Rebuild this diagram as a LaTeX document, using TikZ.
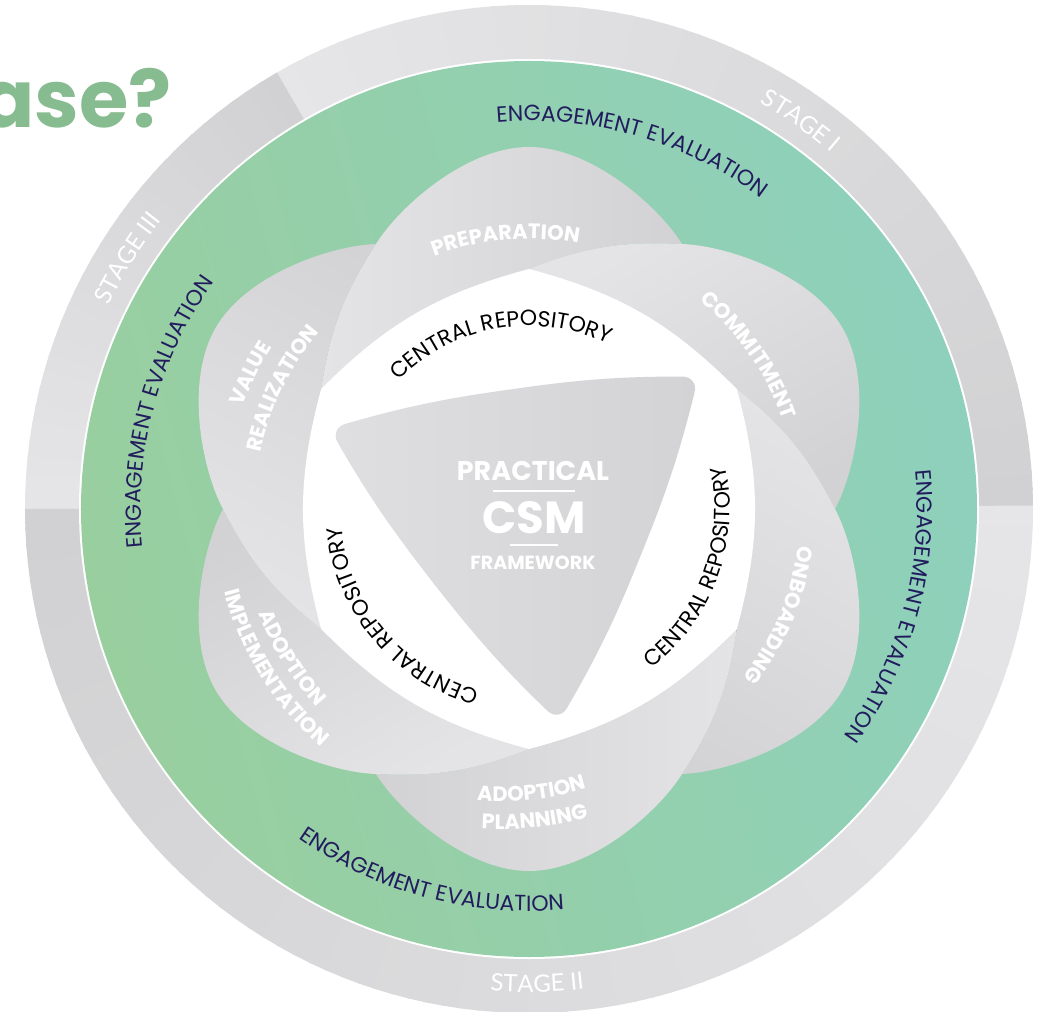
\documentclass[tikz,border=0pt]{standalone}
\usepackage{fontspec}
\setmainfont{Poppins}
\newfontfamily\stagefont{Lato}
\usetikzlibrary{decorations.text}

\definecolor{navyink}{HTML}{221C5E}
\definecolor{leafgreen}{HTML}{99CF9F}
\definecolor{leafteal}{HTML}{8ED0BC}
\definecolor{ringlight}{HTML}{E6E6E8}
\definecolor{ringdark}{HTML}{D1D1D3}
\definecolor{petallight}{HTML}{E4E4E6}
\definecolor{petaldark}{HTML}{D2D2D4}
\definecolor{corelight}{HTML}{DFDFE1}
\definecolor{coredark}{HTML}{D3D3D5}
\definecolor{titlegreen}{HTML}{86BC8F}

\tikzset{
    petal/.style={
        top color=petallight,
        bottom color=petaldark
    },
    core/.style={
        left color=corelight,
        right color=coredark
    },
    coretext/.style={
        text=white,
        inner sep=0pt,
        font=\bfseries
    },
    corerule/.style={draw=white, line width=2.2pt},
    titletext/.style={
        text=titlegreen,
        inner sep=0pt,
        font=\fontsize{80}{82}\selectfont\bfseries
    }
}
\newcommand{\engfont}{\fontsize{22}{26}\selectfont\color{navyink}}
\newcommand{\petalfont}{\fontsize{21}{24}\selectfont\bfseries\color{white}}
\newcommand{\repofont}{\fontsize{22}{26}\selectfont\color{black}}
\newcommand{\stagelabel}{\stagefont\fontsize{24}{28}\selectfont\color{white}}
% text on an arc round the centre: [path options]{mid angle}{baseline radius}{font}{text}
\newcommand{\cwtext}[5][]{%
    \path[#1, decorate, decoration={text along path, text align=center, text={|#4|#5}}]
        (#2+70:#3) arc[start angle=#2+70, end angle=#2-70, radius=#3];}
\newcommand{\ccwtext}[5][]{%
    \path[#1, decorate, decoration={text along path, text align=center, text={|#4|#5}}]
        (#2-70:#3) arc[start angle=#2-70, end angle=#2+70, radius=#3];}

\begin{document}
\begin{tikzpicture}[x=1pt, y=1pt]
    \useasboundingbox (-529,-502) rectangle (514,509);
    \fill[white] (-529,-502) rectangle (514,509);
    % stage ring, each stage darker clockwise
    \foreach \sa/\sb in {0/120,120/180,180/360}{
        \pgfmathtruncatemacro{\nw}{(\sb-\sa)/2-1}
        \foreach \i in {0,...,\nw}{
            \pgfmathsetmacro{\wa}{\sa+2*\i}
            \pgfmathtruncatemacro{\mixpct}{(2*\i+1)/(\sb-\sa)*100}
            \fill[ringlight!\mixpct!ringdark] (0,0) -- (\wa:504)
                arc[start angle=\wa, end angle=\wa+2.4, radius=504] -- cycle;
        }
    }
    \fill[white] (0,0) circle[radius=450];
    \shade[top color=leafteal, bottom color=leafgreen, shading angle=-75] (0,0) circle[radius=448];

    % six petals
    \foreach \r in {0,-60,...,-300}{
        \pgfmathsetmacro{\shang}{90+\r}
        \shade[petal, shading angle=\shang]
            (\r+150:240) to[bend left=12] (\r+120:306)
            .. controls +(\r+58:45) and +(\r+180:62) .. (\r+90:362)
            .. controls +(\r:62) and +(\r+122:45) .. (\r+60:306)
            to[bend right=12] (\r+90:240) -- (0,0) -- cycle;
    }
    % hub
    \fill[white] (150:240) to[bend left=15] (90:240) to[bend left=15] (30:240)
        to[bend left=15] (-30:240) to[bend left=15] (-90:240)
        to[bend left=15] (-150:240) to[bend left=15] cycle;
    \shade[core, rounded corners=16] (218:121) to[bend left=4] (158:215)
        to[bend left=4] (98:121) to[bend left=4] (38:215)
        to[bend left=4] (-22:121) to[bend left=4] (-82:215)
        to[bend left=4] (218:121);

    \node[coretext, font=\fontsize{27}{30}\selectfont\bfseries] (practical) at (4,38) {PRACTICAL};
    \node[coretext, font=\fontsize{45}{50}\selectfont\bfseries] (csm) at (5,-9) {CSM};
    \node[coretext, font=\fontsize{19}{22}\selectfont\bfseries] (framework) at (4,-54) {FRAMEWORK};
    \draw[corerule] (-36,18) -- (46,18);
    \draw[corerule] (-19,-36) -- (29,-36);

    % ring labels
    \cwtext{74}{388}{\engfont}{ENGAGEMENT EVALUATION}
    \cwtext{165}{388}{\engfont}{ENGAGEMENT EVALUATION}
    \cwtext{-15}{388}{\engfont}{ENGAGEMENT EVALUATION}
    \ccwtext{-105}{402}{\engfont}{ENGAGEMENT EVALUATION}
    \cwtext{55}{467}{\stagelabel}{STAGE I}
    \cwtext{148}{467}{\stagelabel}{STAGE III}
    \ccwtext{-89}{483}{\stagelabel}{STAGE II}

    % petal labels
    \cwtext{95}{270}{\petalfont}{PREPARATION}
    \cwtext{35}{269}{\petalfont}{COMMITMENT}
    \cwtext{-23}{272}{\petalfont}{ONBOARDING}
    \cwtext{154}{304}{\petalfont}{VALUE}
    \cwtext{154}{274}{\petalfont}{REALIZATION}
    \ccwtext{212}{290}{\petalfont}{ADOPTION}
    \ccwtext{212}{316}{\petalfont}{IMPLEMENTATION}
    \ccwtext[shift={(-27,0)}]{-84}{292}{\petalfont}{ADOPTION}
    \ccwtext[shift={(-27,0)}]{-84}{320}{\petalfont}{PLANNING}

    % hub labels
    \cwtext{100}{183}{\repofont}{CENTRAL REPOSITORY}
    \ccwtext{-20}{201}{\repofont}{CENTRAL REPOSITORY}
    \cwtext{220}{188}{\repofont}{CENTRAL REPOSITORY}

    \node[titletext, anchor=base east] (title) at (-357,381) {ase?};
\end{tikzpicture}
\end{document}
